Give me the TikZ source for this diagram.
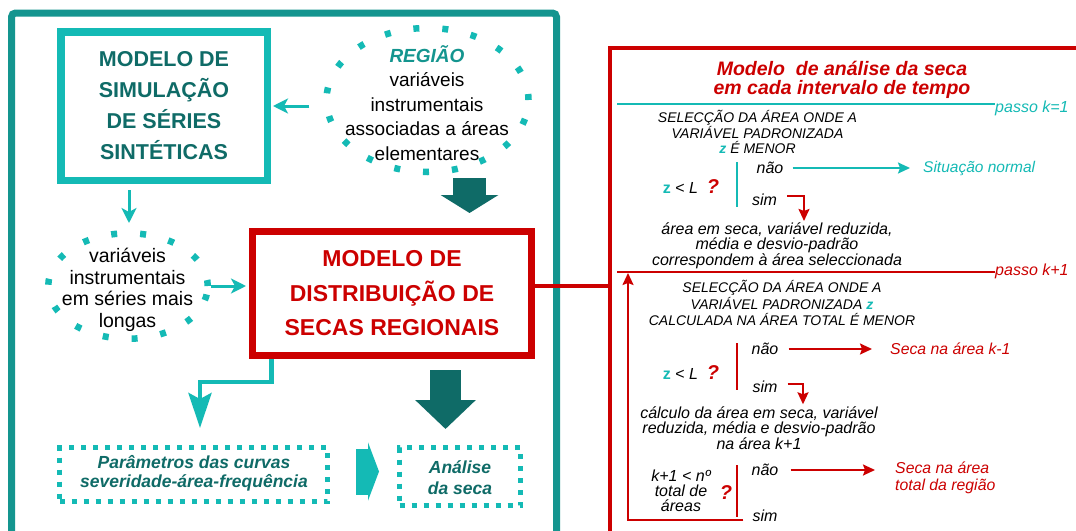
\documentclass[tikz,border=0pt]{standalone}
\usepackage{fontspec}
\setmainfont{Liberation Sans}
\usetikzlibrary{arrows.meta,shapes.geometric}
\definecolor{frameteal}{HTML}{14958F}
\definecolor{lightteal}{HTML}{14BAB5}
\definecolor{darkteal}{HTML}{0F6B67}
\definecolor{boxred}{HTML}{CC0000}
\newcommand{\fsz}[2]{\fontsize{#1pt}{#2pt}\selectfont}
\newcommand{\zv}{{\color{lightteal}\bfseries z}}
\newcommand{\qm}{{\color{boxred}\bfseries\itshape\fsz{20}{20}?}}

\begin{document}
\begin{tikzpicture}[x=1pt,y=-1pt,
  txt/.style={inner sep=0pt,align=center},
  small/.style={txt,font=\itshape\fsz{16}{15}},
  caps/.style={txt,font=\itshape\fsz{14}{15}},
  dotring/.style={ellipse,draw=lightteal,line width=6.5pt,dash pattern=on 6pt off 23pt,inner sep=0pt},
  dotbox/.style={rectangle,draw=lightteal,line width=5pt,dash pattern=on 5pt off 7pt,inner sep=0pt},
  tarrow/.style={draw=lightteal,line width=3pt,-{Stealth[length=15pt,width=15pt,inset=4pt]}},
  thinarrow/.style={line width=2pt,-{Stealth[length=12pt,width=11pt,inset=2pt]}},
  bar/.style={line width=2.5pt}]
  \fill[white] (0,0) rectangle (1076,530);
  \useasboundingbox (0,0) rectangle (1076,530);
  \clip (0,0) rectangle (1076,530);

  \node[draw=frameteal,line width=7pt,rounded corners=4pt,minimum width=545pt,minimum height=600pt] (frame) at (284,313) {};
  \node[draw=lightteal,line width=7.5pt,minimum width=206.5pt,minimum height=148.5pt,align=center,text=darkteal,font=\bfseries\fsz{21.5}{31}] (sim) at (164,106) {MODELO DE\\SIMULAÇÃO\\DE SÉRIES\\SINTÉTICAS};
  \node[dotring,minimum width=202pt,minimum height=144pt] (reg) at (427.5,100) {};
  \node[txt,font=\fsz{19}{24.5}] (regtxt) at (427,103) {{\color{frameteal}\bfseries\itshape REGIÃO}\\variáveis\\instrumentais\\associadas a áreas\\elementares};
  \node[dotring,minimum width=159.5pt,minimum height=105.5pt] (var) at (128,286) {};
  \node[txt,font=\fsz{19.5}{21.5}] (vartxt) at (127.5,290) {variáveis\\instrumentais\\em séries mais\\longas};
  \node[draw=boxred,line width=7pt,minimum width=279pt,minimum height=124pt,align=center,text=boxred,font=\bfseries\fsz{23}{34.5}] (dist) at (392,293.5) {MODELO DE\\DISTRIBUIÇÃO DE\\SECAS REGIONAIS};
  \node[dotbox,minimum width=268pt,minimum height=54pt] (par) at (193.5,474.5) {};
  \node[txt,text=darkteal,font=\bfseries\itshape\fsz{17.5}{19}] (partxt) at (194,473.5) {Parâmetros das curvas\\severidade-área-frequência};
  \node[dotbox,minimum width=121pt,minimum height=58pt] (ana) at (460,476.5) {};
  \node[txt,text=darkteal,font=\bfseries\itshape\fsz{17.5}{21}] (anatxt) at (460,477.5) {Análise\\da seca};

  \coordinate (b1) at (469.5,0);
  \coordinate (b2) at (129,0);
  \coordinate (b3) at (445.5,0);
  \coordinate (e1) at (271.5,382);
  \coordinate (e2) at (200,382);
  \coordinate (c1) at (0,471.5);
  \draw[tarrow,shorten <=14pt,shorten >=2pt] (reg.west |- sim.east) -- (sim.east);
  \draw[tarrow,shorten <=6pt,shorten >=7pt] (sim.south -| b2) -- (var.north -| b2);
  \draw[tarrow,shorten >=3pt] (var.east) -- (var.east -| dist.west);
  \draw[darkteal,line width=33pt,-{Triangle[length=18pt,width=57pt]},shorten <=3pt,shorten >=15pt] (reg.south -| b1) -- (dist.north -| b1);
  \draw[darkteal,line width=31pt,-{Triangle[length=29pt,width=59pt]},shorten <=11pt,shorten >=16pt] (dist.south -| b3) -- (ana.north -| b3);
  \draw[lightteal,line width=4.5pt,-{Stealth[length=35pt,width=23pt,inset=6pt]},shorten >=17pt] (dist.south -| e1) -- (e1) -- (e2) -- (e2 |- par.north);
  \draw[lightteal,line width=46pt,-{Triangle[length=11pt,width=58pt]},shorten <=26pt,shorten >=18pt] (par.east |- c1) -- (ana.west |- c1);

  \node[draw=boxred,line width=4pt,minimum width=490.5pt,minimum height=512.5pt] (panel) at (854.75,303.75) {};
  \draw[boxred,line width=3.5pt] (dist.east |- var.east) -- (panel.west |- var.east);

  \node[txt,text=boxred,font=\bfseries\itshape\fsz{19.5}{19}] (title) at (842,80) {Modelo\ \ de análise da seca\\em cada intervalo de tempo};
  \coordinate (k1) at (617,104);
  \coordinate (k2) at (617,272);
  \node[txt,anchor=west,text=lightteal,font=\itshape\fsz{16}{16}] (passo1) at (995,108) {passo k=1};
  \node[txt,anchor=west,text=boxred,font=\itshape\fsz{16}{16}] (passo2) at (995,271) {passo k+1};
  \draw[lightteal,line width=2pt] (k1) -- (k1 -| passo1.west);
  \draw[boxred,line width=2pt] (k2) -- (k2 -| passo2.west);

  \node[caps] (sel1) at (757.5,132) {SELECÇÃO DA ÁREA ONDE A\\VARIÁVEL PADRONIZADA\\\zv{} É MENOR};
  \draw[bar,lightteal] (737,162) -- (737,207);
  \node[small] (nao1) at (770,168) {não};
  \node[txt,anchor=west,text=lightteal,font=\itshape\fsz{15.5}{16}] (normal) at (923,168) {Situação normal};
  \draw[thinarrow,lightteal,shorten <=9pt,shorten >=13pt] (nao1.east) -- (nao1.east -| normal.west);
  \node[txt,font=\fsz{16}{16}] (zl1) at (691,187) {\zv\ <\ \textit{L}\ \ \qm};
  \node[small] (sim1) at (764.5,200) {sim};
  \node[small,font=\itshape\fsz{16}{14.5}] (area1) at (777,246) {área em seca, variável reduzida,\\média e desvio-padrão\\correspondem à área seleccionada};
  \coordinate (s1) at (804,196);
  \draw[thinarrow,boxred,shorten <=10pt,shorten >=2pt] (sim1.east |- s1) -- (s1) -- (s1 |- area1.north);

  \node[caps,font=\itshape\fsz{14}{16.5}] (sel2) at (782,303) {SELECÇÃO DA ÁREA ONDE A\\VARIÁVEL PADRONIZADA \zv\\CALCULADA NA ÁREA TOTAL É MENOR};
  \draw[bar,boxred] (737,343) -- (737,390);
  \node[small] (nao2) at (765,349) {não};
  \node[txt,anchor=west,text=boxred,font=\itshape\fsz{15.8}{16}] (seca1) at (890,349) {Seca na área k-1};
  \draw[thinarrow,boxred,shorten <=10pt,shorten >=18pt] (nao2.east) -- (nao2.east -| seca1.west);
  \node[txt,font=\fsz{16}{16}] (zl2) at (691,373) {\zv\ <\ \textit{L}\ \ \qm};
  \node[small] (sim2) at (765,387) {sim};
  \node[small] (calc) at (759,428) {cálculo da área em seca, variável\\reduzida, média e desvio-padrão\\na área k+1};
  \coordinate (s2) at (803,384);
  \draw[thinarrow,boxred,shorten <=10pt,shorten >=2pt] (sim2.east |- s2) -- (s2) -- (s2 |- calc.north);

  \draw[bar,boxred] (737,465) -- (737,517);
  \node[small] (nao3) at (765,470) {não};
  \node[txt,anchor=west,align=left,text=boxred,font=\itshape\fsz{15.8}{17}] (seca2) at (895,477.5) {Seca na área\\total da região};
  \draw[thinarrow,boxred,shorten <=12pt,shorten >=20pt] (nao3.east) -- (nao3.east -| seca2.west);
  \node[small] (kn) at (681,491) {k+1 < nº\\total de\\áreas};
  \node[txt] (q3) at (726,493) {\qm};
  \node[small] (sim3) at (765,516) {sim};
  \coordinate (fb) at (628,520);
  \draw[thinarrow,boxred,shorten <=9pt,shorten >=1pt] (sim3.west |- fb) -- (fb) -- (fb |- k2);
\end{tikzpicture}
\end{document}
